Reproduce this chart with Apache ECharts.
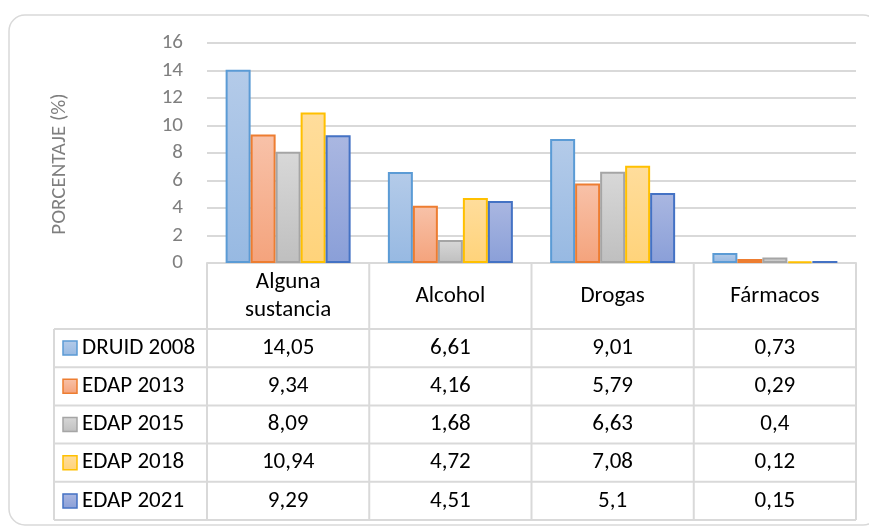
<!DOCTYPE html>
<html>
<head>
<meta charset="utf-8">
<script src="https://cdn.jsdelivr.net/npm/echarts@6/dist/echarts.min.js"></script>
<style>
  html, body { margin: 0; padding: 0; background: #ffffff; }
  #chart { width: 869px; height: 527px; }
</style>
</head>
<body>
<div id="chart"></div>
<script>
// Data
const categories = ['Alguna\nsustancia', 'Alcohol', 'Drogas', 'Fármacos'];
const seriesNames = ['DRUID 2008', 'EDAP 2013', 'EDAP 2015', 'EDAP 2018', 'EDAP 2021'];
const druid2008 = [14.05, 6.61, 9.01, 0.73];
const edap2013 = [9.34, 4.16, 5.79, 0.29];
const edap2015 = [8.09, 1.68, 6.63, 0.4];
const edap2018 = [10.94, 4.72, 7.08, 0.12];
const edap2021 = [9.29, 4.51, 5.1, 0.15];
const yMin = 0, yMax = 16, yStep = 2;
const yTitle = 'PORCENTAJE (%)';

const seriesValues = [druid2008, edap2013, edap2015, edap2018, edap2021];

// Styling
const FONT = 'Carlito, Lato, "Open Sans", sans-serif';
const TABLE_FONT_SIZE = 23;
const borderColors = ['#5b9bd5', '#ed7d31', '#a5a5a5', '#ffc000', '#4472c4'];
const fillTop = ['#b4cbe9', '#f8c2a9', '#d8d8d8', '#ffdd9c', '#aab7e1'];
const fillBottom = ['#97b9e2', '#f4a37c', '#bfbfbf', '#ffd37a', '#8a9fd8'];
const lineColor = '#d9d9d9';
const axisTextColor = '#7f7f7f';

const grid = { left: 207, top: 43, width: 649, height: 220 };
const rowTop = 329;
const rowH = 38.2;
const tableLeft = 54;

function grad(i) {
  return new echarts.graphic.LinearGradient(0, 0, 0, 1, [
    { offset: 0, color: fillTop[i] },
    { offset: 1, color: fillBottom[i] }
  ]);
}

function fmt(v) {
  return String(v).replace('.', ',');
}

const chart = echarts.init(document.getElementById('chart'));

chart.setOption({
  animation: false,
  backgroundColor: '#ffffff',
  grid: { left: grid.left, top: grid.top, width: grid.width, height: grid.height, containLabel: false },
  xAxis: {
    type: 'category',
    data: categories,
    axisTick: { show: false },
    axisLine: { show: true, lineStyle: { color: lineColor, width: 2 } },
    axisLabel: {
      color: '#000000',
      fontFamily: FONT,
      fontSize: TABLE_FONT_SIZE,
      lineHeight: 28,
      verticalAlign: 'middle',
      margin: 33,
      interval: 0
    },
    splitLine: { show: false }
  },
  yAxis: {
    type: 'value',
    min: yMin,
    max: yMax,
    interval: yStep,
    axisLine: { show: false },
    axisTick: { show: false },
    axisLabel: { color: axisTextColor, fontFamily: FONT, fontSize: 21, margin: 24 },
    splitLine: { lineStyle: { color: lineColor, width: 2 } }
  },
  series: seriesValues.map((vals, i) => ({
    name: seriesNames[i],
    type: 'bar',
    data: vals,
    barWidth: 25,
    barGap: '0%',
    itemStyle: {
      color: grad(i),
      borderColor: borderColors[i],
      borderWidth: 2
    }
  }))
});

// Data table beneath the plot, aligned with the category axis
const colW = grid.width / categories.length;
const gridRight = grid.left + grid.width;
const tableBottom = rowTop + rowH * seriesNames.length;
const elements = [];

// outer rounded frame
elements.push({
  type: 'rect',
  shape: { x: 9, y: 15, width: 870, height: 510, r: 16 },
  style: { fill: null, stroke: lineColor, lineWidth: 1.5 },
  z: 0
});

// vertical axis title
elements.push({
  type: 'text',
  x: 60,
  y: grid.top + grid.height / 2 + 11,
  rotation: Math.PI / 2,
  style: { text: yTitle, fill: axisTextColor, font: '21px ' + FONT, align: 'center', verticalAlign: 'middle', textAlign: 'center', textVerticalAlign: 'middle' },
  z: 6
});

// vertical column separators (header + body)
for (let c = 0; c <= categories.length; c++) {
  const x = grid.left + c * colW;
  elements.push({
    type: 'line',
    shape: { x1: x, y1: grid.top + grid.height, x2: x, y2: tableBottom },
    style: { stroke: lineColor, lineWidth: 2 },
    z: 5
  });
}
// left edge of legend column
elements.push({
  type: 'line',
  shape: { x1: tableLeft, y1: rowTop, x2: tableLeft, y2: tableBottom },
  style: { stroke: lineColor, lineWidth: 2 },
  z: 5
});
// horizontal row lines
for (let r = 0; r <= seriesNames.length; r++) {
  const y = rowTop + r * rowH;
  elements.push({
    type: 'line',
    shape: { x1: tableLeft, y1: y, x2: gridRight, y2: y },
    style: { stroke: lineColor, lineWidth: 2 },
    z: 5
  });
}

// rows: legend key, series name, values
seriesNames.forEach((name, i) => {
  const cy = rowTop + (i + 0.5) * rowH;
  elements.push({
    type: 'rect',
    shape: { x: 63, y: cy - 7, width: 14, height: 14 },
    style: { fill: grad(i), stroke: borderColors[i], lineWidth: 1.5 },
    z: 6
  });
  elements.push({
    type: 'text',
    x: 82,
    y: cy,
    style: { text: name, fill: '#000000', font: TABLE_FONT_SIZE + 'px ' + FONT, align: 'left', verticalAlign: 'middle', textAlign: 'left', textVerticalAlign: 'middle' },
    z: 6
  });
  seriesValues[i].forEach((v, c) => {
    const cx = chart.convertToPixel({ xAxisIndex: 0 }, c);
    elements.push({
      type: 'text',
      x: cx,
      y: cy,
      style: { text: fmt(v), fill: '#000000', font: TABLE_FONT_SIZE + 'px ' + FONT, align: 'center', verticalAlign: 'middle', textAlign: 'center', textVerticalAlign: 'middle' },
      z: 6
    });
  });
});

chart.setOption({ graphic: { elements: elements } });
</script>
</body>
</html>
